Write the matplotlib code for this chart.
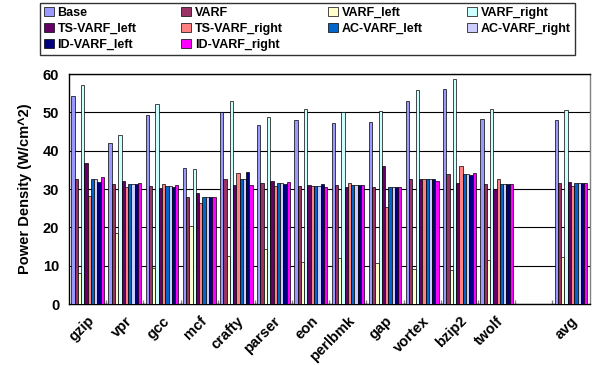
import matplotlib.pyplot as plt
import numpy as np

# Benchmarks (empty slot before avg, like the original sheet)
benchmarks = ['gzip', 'vpr', 'gcc', 'mcf', 'crafty', 'parser', 'eon', 'perlbmk',
              'gap', 'vortex', 'bzip2', 'twolf', '', 'avg']

nan = np.nan
# Power density values (W/cm^2) for each scheme
base = [54.3, 42.1, 49.2, 35.6, 50.2, 46.8, 47.9, 47.3, 47.6, 52.9, 56.2, 48.3, nan, 48.1]
varf = [32.7, 31.4, 30.7, 28.0, 32.7, 31.6, 30.9, 31.1, 30.6, 32.5, 34.0, 31.4, nan, 31.5]
varfLeft = [8.1, 18.6, 9.4, 20.4, 12.6, 14.4, 11.0, 12.0, 10.7, 9.2, 8.9, 11.5, nan, 12.2]
varfRight = [57.1, 44.2, 52.1, 35.3, 53.0, 48.7, 50.8, 50.1, 50.3, 55.8, 58.8, 51.0, nan, 50.6]
tsLeft = [36.9, 32.2, 30.4, 29.1, 31.1, 32.2, 31.1, 30.6, 36.0, 32.5, 31.7, 30.1, nan, 31.9]
tsRight = [28.3, 30.6, 31.2, 26.4, 34.2, 30.9, 30.7, 31.5, 25.4, 32.5, 36.0, 32.7, nan, 30.9]
acLeft = [32.7, 31.4, 30.7, 28.0, 32.6, 31.6, 30.9, 31.0, 30.6, 32.5, 34.0, 31.4, nan, 31.5]
acRight = [32.5, 31.4, 30.7, 28.0, 32.6, 31.6, 30.9, 31.0, 30.6, 32.5, 34.0, 31.4, nan, 31.5]
idLeft = [31.9, 31.4, 30.5, 28.0, 34.4, 31.4, 31.2, 31.0, 30.6, 32.6, 33.7, 31.2, nan, 31.5]
idRight = [33.2, 31.5, 31.0, 28.0, 31.1, 31.8, 30.5, 31.0, 30.6, 32.2, 34.2, 31.4, nan, 31.5]

seriesNames = ['Base', 'VARF', 'VARF_left', 'VARF_right', 'TS-VARF_left', 'TS-VARF_right',
               'AC-VARF_left', 'AC-VARF_right', 'ID-VARF_left', 'ID-VARF_right']
seriesValues = [base, varf, varfLeft, varfRight, tsLeft, tsRight, acLeft, acRight, idLeft, idRight]
seriesColors = ['#9999FF', '#993366', '#FFFFCC', '#CCFFFF', '#660066', '#FF8080',
                '#0066CC', '#CCCCFF', '#000080', '#FF00FF']

plt.rcParams['font.family'] = ['Liberation Sans', 'DejaVu Sans']
plt.rcParams['font.weight'] = 'bold'

fig = plt.figure(figsize=(5.97, 3.65), dpi=100)
ax = fig.add_axes([0.1156, 0.167, 0.872, 0.63])

x = np.arange(len(benchmarks))
nSeries = len(seriesNames)
barWidth = 0.88 / nSeries

handles = []
for i in range(nSeries):
    offset = (i - (nSeries - 1) / 2) * barWidth
    h = ax.bar(x + offset, seriesValues[i], width=barWidth, color=seriesColors[i],
               edgecolor='black', linewidth=0.5, label=seriesNames[i], zorder=3)
    handles.append(h)

# Axis settings
ax.set_xlim(-0.5, len(benchmarks) - 0.5)
ax.set_ylim(0, 60)
ax.set_yticks(np.arange(0, 61, 10))
ax.yaxis.grid(True, color='black', linewidth=0.8, zorder=0)
ax.tick_params(axis='y', labelsize=10.5, length=0, pad=7)

ax.set_xticks(x)
ax.set_xticklabels(benchmarks, rotation=45, ha='right', rotation_mode='anchor', fontsize=10.5)
ax.tick_params(axis='x', which='major', length=0, pad=7)
# small inside marks at the category boundaries
ax.set_xticks(np.arange(0.5, len(benchmarks) - 0.5, 1), minor=True)
ax.tick_params(axis='x', which='minor', direction='in', length=3, color='grey', width=1)

for spine in ax.spines.values():
    spine.set_color('black')
    spine.set_linewidth(1)
ax.spines['right'].set_color('grey')

ax.set_ylabel('Power Density (W/cm^2)', fontsize=10.5, fontweight='bold', labelpad=8)

# Legend laid out row by row like the original (matplotlib fills columns first)
order = [0, 4, 8, 1, 5, 9, 2, 6, 3, 7]
leg = fig.legend([handles[k] for k in order], [seriesNames[k] for k in order],
                 ncol=4, loc='center', bbox_to_anchor=(0.067, 0.847, 0.896, 0.148),
                 mode='expand', fontsize=9, frameon=True, fancybox=False,
                 edgecolor='black', handlelength=0.8, handleheight=0.8,
                 handletextpad=0.3, labelspacing=0.3, borderpad=0.3, borderaxespad=0)
leg.get_frame().set_linewidth(1)

fig.savefig('out.png', dpi=100)
